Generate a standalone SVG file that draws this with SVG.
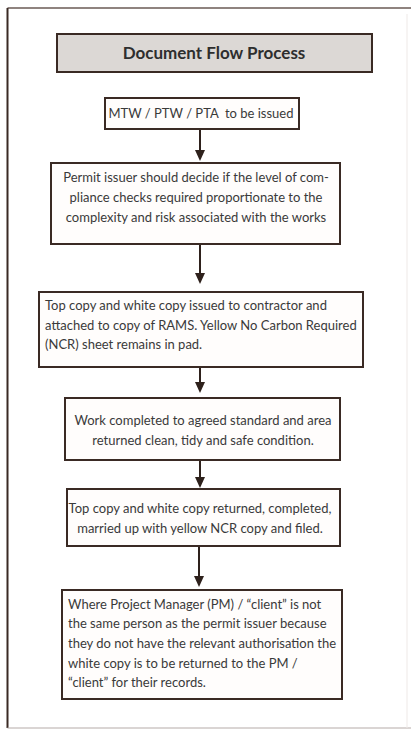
<svg xmlns="http://www.w3.org/2000/svg" width="411" height="730" viewBox="0 0 411 730">
<defs>
<style>
.box{fill:#fffdfc;stroke:#3a2a24;stroke-width:2}
.title{fill:#dcd8d5;stroke:#3a2a24;stroke-width:2}
.t{font-family:Lato,"Open Sans","Liberation Sans",sans-serif;font-size:13px;fill:#3a3a3a}
.c{text-anchor:middle}
.tt{font-family:Lato,"Open Sans","Liberation Sans",sans-serif;font-size:17px;font-weight:bold;fill:#2e2e2e;text-anchor:middle}
.conn line{stroke:#2e211c;stroke-width:2}
.conn path{fill:#2e211c}
</style>
</defs>
<rect width="411" height="730" fill="#ffffff"/>
<g id="frame">
<line x1="7.5" y1="8" x2="411" y2="8" stroke="#6a5a55" stroke-width="1.5"/>
<line x1="7.5" y1="8" x2="7.5" y2="728" stroke="#3a2a24" stroke-width="2"/>
<line x1="7.5" y1="728" x2="411" y2="728" stroke="#b5aba8" stroke-width="1"/>
<line x1="407" y1="14" x2="407" y2="728" stroke="#eee9e7" stroke-width="1"/>
</g>
<g id="title">
<rect class="title" x="57" y="34" width="315" height="38"/>
<text class="tt" x="214" y="59">Document Flow Process</text>
</g>
<g class="conn" id="connectors">
<line x1="200" y1="129" x2="200" y2="150"/>
<path d="M195,150 L205,150 L200,161 Z"/>
<line x1="200" y1="244" x2="200" y2="273"/>
<path d="M195,273 L205,273 L200,284 Z"/>
<line x1="200" y1="367" x2="200" y2="382"/>
<path d="M195,382 L205,382 L200,393 Z"/>
<line x1="200" y1="460" x2="200" y2="477"/>
<path d="M195,477 L205,477 L200,488 Z"/>
<line x1="199" y1="546" x2="199" y2="576"/>
<path d="M194,576 L204,576 L199,587 Z"/>
</g>
<g id="n1">
<rect class="box" x="105" y="98" width="194" height="31"/>
<text class="t c" x="201" y="118" xml:space="preserve" style="white-space:pre">MTW / PTW / PTA  to be issued</text>
</g>
<g id="n2">
<rect class="box" x="51" y="163" width="289" height="81"/>
<text class="t c" x="196" y="182">Permit issuer should decide if the level of com-</text>
<text class="t c" x="196" y="202">pliance checks required proportionate to the</text>
<text class="t c" x="196" y="222">complexity and risk associated with the works</text>
</g>
<g id="n3">
<rect class="box" x="39" y="292" width="324" height="75"/>
<text class="t" x="45" y="310">Top copy and white copy issued to contractor and</text>
<text class="t" x="45" y="330">attached to copy of RAMS. Yellow No Carbon Required</text>
<text class="t" x="45" y="349">(NCR) sheet remains in pad.</text>
</g>
<g id="n4">
<rect class="box" x="65" y="398" width="275" height="62"/>
<text class="t c" x="203" y="425">Work completed to agreed standard and area</text>
<text class="t c" x="203" y="445">returned clean, tidy and safe condition.</text>
</g>
<g id="n5">
<rect class="box" x="67" y="489" width="273" height="57"/>
<text class="t c" x="200" y="513">Top copy and white copy returned, completed,</text>
<text class="t c" x="200" y="533">married up with yellow NCR copy and filed.</text>
</g>
<g id="n6">
<rect class="box" x="62" y="590" width="280" height="109"/>
<text class="t" x="68" y="609">Where Project Manager (PM) / “client” is not</text>
<text class="t" x="68" y="628">the same person as the permit issuer because</text>
<text class="t" x="68" y="648">they do not have the relevant authorisation the</text>
<text class="t" x="68" y="668">white copy is to be returned to the PM /</text>
<text class="t" x="68" y="687">“client” for their records.</text>
</g>
</svg>
